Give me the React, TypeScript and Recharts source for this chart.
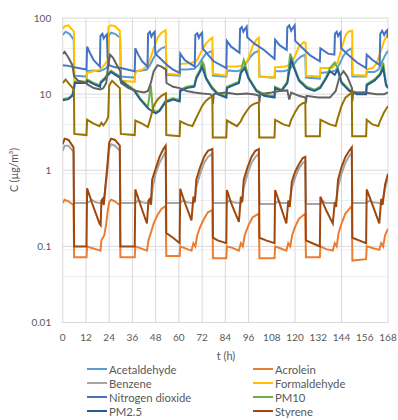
import { LineChart, Line, XAxis, YAxis, CartesianGrid } from "recharts";

type P = [number, number];

const X_TICKS = [0, 12, 24, 36, 48, 60, 72, 84, 96, 108, 120, 132, 144, 156, 168];
const Y_TICKS = [0.01, 0.1, 1, 10, 100];
const DECADES = [0.01, 0.1, 1, 10];
const MINOR_STEPS = [2, 3, 4, 5, 6, 7, 8, 9];

// [t (h), C (µg/m³)]
const acetaldehyde: P[] = [
  [0, 60], [1.5, 66], [3.5, 62], [5.7, 52], [6, 17.5], [12.3, 17], [12.6, 20], [16, 20.5], [19, 20], [21, 21], [22.5, 22], [23.4, 24],
  [23.7, 58], [25, 64], [27, 62], [29.7, 55], [30, 17], [37.2, 16.5], [37.5, 20], [41, 20.5], [43.5, 21], [45, 24], [47, 30], [49, 36],
  [51, 40], [53.3, 42], [53.6, 18], [60.4, 17.5], [60.7, 21], [64, 21], [68, 21.5], [70, 24], [72, 29], [74, 34], [77.3, 37], [77.6, 17.5],
  [84.5, 17], [84.8, 20.5], [90, 20], [93, 21], [95, 26], [97, 31], [99, 35], [101.3, 37], [101.6, 17], [109.4, 16.5], [109.7, 20],
  [114, 20], [117, 21], [119, 24], [121, 28], [123, 31], [125.3, 33], [125.6, 16.5], [132.8, 16], [133.1, 19], [138, 19.5], [141, 20.5],
  [143, 25], [145, 32], [147, 37], [149.3, 40], [149.6, 17], [156.7, 17], [157, 19.5], [161, 19.5], [163, 21], [165, 27], [167, 34], [168, 37],
];

const acrolein: P[] = [
  [0, 0.37], [1, 0.41], [3, 0.39], [5.6, 0.35], [5.9, 0.072], [12.3, 0.072], [12.6, 0.1], [15, 0.095], [17, 0.092], [19.5, 0.088],
  [20, 0.12], [21.5, 0.14], [22.5, 0.2], [23.3, 0.3], [24, 0.38], [25, 0.41], [27, 0.39], [29.5, 0.35], [29.8, 0.072], [37.2, 0.072],
  [37.5, 0.1], [40, 0.095], [43.5, 0.088], [44.3, 0.12], [45.5, 0.15], [47, 0.2], [49, 0.26], [51, 0.31], [53.2, 0.34], [53.5, 0.075],
  [60.4, 0.075], [60.7, 0.1], [63, 0.095], [66.5, 0.088], [67.5, 0.11], [68.5, 0.1], [69.5, 0.14], [71, 0.18], [73, 0.23], [75, 0.28],
  [77.3, 0.3], [77.6, 0.07], [84.5, 0.07], [84.8, 0.1], [88, 0.095], [91, 0.088], [92, 0.11], [93, 0.1], [94, 0.14], [96, 0.19],
  [98, 0.24], [101.3, 0.27], [101.6, 0.07], [109.4, 0.07], [109.7, 0.1], [113, 0.093], [115.5, 0.088], [116.5, 0.11], [117.5, 0.1],
  [118.5, 0.14], [120, 0.18], [122, 0.23], [125.3, 0.27], [125.6, 0.072], [132.8, 0.072], [133.1, 0.1], [136, 0.092], [139.5, 0.088],
  [140.5, 0.11], [141.5, 0.1], [142.5, 0.15], [144, 0.2], [146, 0.27], [149.3, 0.34], [149.6, 0.065], [156.7, 0.068], [157, 0.1],
  [160, 0.095], [163.5, 0.09], [164.5, 0.11], [165.5, 0.1], [166.5, 0.14], [168, 0.17],
];

const benzene: P[] = [
  [0, 1.8], [1, 2.1], [3, 2.1], [5.6, 1.75], [5.9, 0.37], [12.3, 0.37], [13.5, 0.38], [15, 0.41], [17, 0.38], [19.6, 0.37], [20.3, 0.4],
  [21.2, 0.38], [22, 0.55], [23, 0.95], [24, 1.9], [25, 2.2], [27, 2.1], [29.5, 1.8], [29.8, 0.37], [37.5, 0.37], [39, 0.4], [41, 0.38],
  [44, 0.37], [45, 0.4], [45.8, 0.38], [46.5, 0.6], [48, 0.9], [50, 1.25], [52, 1.55], [53.2, 1.75], [53.5, 0.37], [60.7, 0.37], [62, 0.4],
  [64, 0.38], [67.5, 0.37], [68.3, 0.4], [69, 0.6], [71, 0.9], [73, 1.25], [75, 1.5], [77.3, 1.65], [77.6, 0.37], [84.8, 0.37], [86, 0.4],
  [88, 0.38], [92, 0.37], [92.7, 0.4], [93.5, 0.6], [95.5, 0.9], [97.5, 1.25], [99.5, 1.5], [101.3, 1.65], [101.6, 0.36], [109.7, 0.36],
  [111, 0.39], [113, 0.37], [116.5, 0.37], [117.3, 0.4], [118.3, 0.58], [120, 0.8], [122, 1.05], [124, 1.25], [125.3, 1.3], [125.6, 0.36],
  [133.1, 0.36], [134.5, 0.39], [136, 0.37], [140.5, 0.37], [141.2, 0.4], [142.2, 0.6], [144, 0.9], [146, 1.25], [148, 1.55], [149.3, 1.7],
  [149.6, 0.37], [157, 0.37], [158.5, 0.4], [160, 0.38], [164.5, 0.37], [165.2, 0.4], [166.5, 0.58], [168, 0.8],
];

const formaldehyde: P[] = [
  [0, 72], [1, 78], [3, 80], [5, 70], [5.8, 66], [6, 15], [12.3, 14.5], [12.6, 19], [16, 20], [19, 21], [20, 22], [22, 25], [23.3, 28],
  [23.6, 76], [25, 80], [27, 78], [29.5, 68], [30, 15], [37.2, 14.5], [37.5, 19.5], [41, 21], [43.5, 23], [45, 28], [47, 40], [49, 55],
  [51, 64], [53.2, 69], [53.5, 18.5], [60.4, 18], [60.7, 25], [66, 25.5], [69, 27], [70, 30], [72, 38], [74, 46], [76, 52], [77.3, 55],
  [77.5, 18.5], [84.5, 17.5], [84.8, 23], [90, 23], [94, 24], [96, 30], [98, 42], [100, 52], [101.3, 55], [101.5, 17], [109.4, 16.5],
  [109.7, 22.5], [115, 23], [118, 25], [120, 32], [122, 42], [124.5, 48], [125.5, 47], [125.7, 17.5], [132.8, 17], [133.1, 22], [139, 22],
  [142, 26], [144, 40], [146, 58], [147.5, 66], [149.5, 68], [149.7, 17.8], [156.7, 17.5], [157, 21], [160, 22], [162, 25], [164, 35],
  [166, 50], [168, 62],
];

const nitrogenDioxide: P[] = [
  [0, 24], [3, 23.5], [6, 22.5], [12.3, 21], [12.6, 42], [14, 35], [16, 28], [19.2, 23], [19.5, 58], [20.5, 62], [21.2, 54], [22, 58],
  [22.8, 61], [23.2, 30], [24, 24], [27, 22.5], [30, 22], [37.2, 20], [37.5, 40], [39, 33], [41, 27], [43.8, 23], [44.1, 62], [45, 66],
  [45.8, 57], [46.7, 63], [47.5, 66], [47.8, 34], [50, 30], [54, 24], [57, 21], [60.4, 19], [60.7, 34], [63, 28], [68.2, 23], [68.5, 60],
  [69.5, 63], [70.3, 55], [71, 60], [72, 64], [72.3, 40], [75, 33], [78, 27], [84.5, 22], [84.8, 50], [87, 42], [91.3, 35], [91.6, 72],
  [92.5, 76], [93.3, 66], [94.2, 72], [95, 77], [95.3, 56], [99, 46], [104, 38], [109.4, 29], [109.7, 52], [112, 44], [115.7, 38], [116, 75],
  [117, 80], [118, 68], [119, 75], [119.8, 80], [120.1, 50], [124, 40], [128, 32], [132.8, 27], [133.1, 40], [137, 34], [140.3, 33],
  [140.6, 62], [141.5, 66], [142.2, 58], [143, 63], [143.5, 65], [143.8, 40], [148, 32], [152, 26], [156.7, 22], [157, 33], [160, 28],
  [163.7, 24], [164, 62], [165, 68], [166, 60], [166.8, 66], [167.5, 69], [168, 55],
];

const pm10: P[] = [
  [0, 8.6], [3, 8.9], [5, 9.8], [5.9, 12.4], [6.2, 14.5], [12.3, 14.5], [12.6, 15.6], [16, 14], [19.3, 13], [19.6, 14.6], [22, 16.7],
  [23.5, 18.8], [25, 20.3], [27, 18.7], [29.5, 17.2], [30, 15.6], [33, 13.5], [37, 11.4], [40, 8.8], [44, 6.8], [45.5, 13], [46.5, 6.4],
  [48, 5.8], [50, 6.2], [53, 8.1], [57, 8.8], [60.4, 8.3], [60.7, 11.4], [64, 12.5], [68, 13], [69, 17], [71, 21], [72, 27], [73, 24],
  [74, 16.6], [77, 12.5], [80, 10.4], [84.5, 9.4], [84.8, 12.5], [88, 13.5], [91, 14.6], [92, 20], [93.5, 28], [94.5, 23], [96, 16.6],
  [100, 11.4], [104, 9.9], [109.4, 9.4], [109.7, 12.5], [113, 11.4], [116, 14.6], [117.5, 34], [118.5, 29], [119.5, 23], [122, 15.6],
  [126, 12.5], [130, 11.4], [133, 12.5], [136, 16.6], [138, 22], [140.5, 26], [142, 22], [144, 14.6], [148, 11.4], [152, 10.4],
  [156.7, 10.4], [157, 13.5], [161, 15.6], [164, 18.7], [165.5, 26], [167, 13.5], [168, 12.5],
];

const pm25: P[] = [
  [0, 8.3], [3, 8.6], [5, 9.5], [5.9, 12], [6.2, 14], [12.3, 14], [12.6, 15], [16, 13.5], [19.3, 12.5], [19.6, 14], [22, 16], [23.5, 18],
  [25, 19.5], [27, 18], [29.5, 16.5], [30, 15], [33, 13], [37, 11], [40, 8.5], [44, 6.5], [46, 6], [48, 5.6], [50, 6], [53, 7.8], [57, 8.5],
  [60.4, 8], [60.7, 11], [64, 12], [68, 12.5], [69, 16], [71, 20], [72, 23], [74, 16], [77, 12], [80, 10], [84.5, 9], [84.8, 12], [88, 13],
  [91, 14], [92, 19], [94, 22], [96, 16], [100, 11], [104, 9.5], [109.4, 9], [109.7, 12], [113, 11], [116, 14], [118, 28], [119.5, 22],
  [122, 15], [126, 12], [130, 11], [133, 12], [136, 16], [138, 20], [140.5, 18], [142, 21], [144, 14], [148, 11], [152, 10], [156.7, 10],
  [157, 13], [161, 15], [164, 18], [165.5, 22], [167, 13], [168, 12],
];

const styrene: P[] = [
  [0, 2.2], [1, 2.6], [3, 2.5], [5.6, 2.0], [5.9, 0.1], [12.3, 0.1], [12.6, 0.58], [15, 0.38], [19, 0.2], [19.6, 0.19], [20, 0.4],
  [20.6, 0.42], [21.2, 0.35], [22, 0.6], [23, 1.1], [24, 2.3], [25, 2.6], [27, 2.5], [29.5, 2.1], [29.8, 0.1], [37.2, 0.1], [37.5, 0.56],
  [40, 0.36], [43.5, 0.2], [44.3, 0.4], [45, 0.42], [45.5, 0.35], [46.2, 0.75], [48, 1.05], [50, 1.5], [52, 1.9], [53.2, 2.1],
  [53.5, 0.15], [57, 0.13], [60.4, 0.11], [60.7, 0.57], [63, 0.38], [66.5, 0.22], [67.5, 0.45], [68.2, 0.38], [69, 0.75], [71, 1.1],
  [73, 1.5], [75, 1.8], [77.3, 1.9], [77.6, 0.13], [80, 0.12], [84.5, 0.11], [84.8, 0.55], [87, 0.37], [91, 0.21], [92, 0.45],
  [92.7, 0.38], [93.5, 0.75], [95.5, 1.1], [97.5, 1.5], [99.5, 1.8], [101.3, 1.9], [101.6, 0.13], [105, 0.12], [109.4, 0.11],
  [109.7, 0.55], [112, 0.37], [115.5, 0.2], [116.5, 0.4], [117.3, 0.33], [118.3, 0.7], [120, 0.95], [122, 1.2], [124, 1.45],
  [125.3, 1.5], [125.6, 0.12], [129, 0.11], [132.8, 0.1], [133.1, 0.45], [136, 0.3], [139.5, 0.2], [140.5, 0.38], [141.2, 0.33],
  [142.2, 0.75], [144, 1.1], [146, 1.5], [148, 1.8], [149.3, 2.0], [149.6, 0.13], [153, 0.12], [156.7, 0.11], [157, 0.56], [160, 0.35],
  [163.5, 0.2], [164.5, 0.42], [165.2, 0.35], [166.5, 0.65], [168, 0.9],
];

// two more series are drawn but their legend rows are cut off in the picture
const series9: P[] = [
  [0, 34], [1, 36], [3, 30], [5, 24], [5.9, 17], [8, 15], [12.3, 14], [12.6, 13.5], [16, 12], [19.5, 11.5], [21, 12], [22.5, 14],
  [23.5, 24], [24.5, 33], [26, 30], [28, 24], [29.8, 20], [30.1, 14], [34, 12], [38, 11], [42, 10.5], [44, 11], [45.5, 14], [47, 20],
  [49, 24], [51, 23], [53.3, 21], [53.6, 14], [57, 12.5], [60.5, 12], [64, 11], [68, 10.5], [72, 10.2], [76, 10], [77.4, 9.5], [77.6, 7.5],
  [78, 10], [84, 10.5], [90, 10], [95, 10.2], [100, 9.8], [101.4, 9.5], [101.6, 7.8], [102, 10], [108, 10.5], [112, 11], [116, 11.2],
  [117, 8.5], [118, 10.5], [122, 9.5], [125.4, 9], [125.6, 7.6], [126, 9.5], [132, 9], [138, 9], [141, 11], [143, 17], [145, 20],
  [147, 17], [149.4, 12], [149.6, 8], [150, 10.5], [156, 10.5], [162, 10], [166, 10], [168, 10.5],
];

const series10: P[] = [
  [0, 14], [1.5, 15.5], [4, 13], [5.8, 11.5], [6, 3.0], [12.3, 2.9], [12.6, 4.6], [16, 4.1], [19, 3.8], [20, 4.2], [21, 3.9], [22.5, 4.4],
  [23.5, 5], [24, 13], [25.5, 15], [29.5, 12], [30, 3.0], [37.2, 2.9], [37.5, 4.5], [41, 4.1], [44, 3.7], [45.5, 5], [47, 7], [49, 8.5],
  [51, 9.5], [53.3, 10.3], [53.5, 2.9], [60.4, 2.8], [60.7, 4.4], [64, 4.0], [67, 3.8], [68.5, 4.6], [70, 5.5], [72, 7], [74, 8.2], [76, 9],
  [77.3, 9.2], [77.5, 2.7], [84.5, 2.7], [84.8, 4.5], [90, 3.8], [92, 4.4], [93, 5], [95, 6], [97, 7], [99, 7.5], [101.3, 7.8],
  [101.5, 2.7], [109.4, 2.7], [109.7, 4.6], [114, 4.0], [117, 3.8], [118, 4.6], [120, 5.8], [122, 7], [124, 7.6], [125.3, 7.8],
  [125.5, 2.8], [132.8, 2.8], [133.1, 4.6], [138, 4.0], [141, 3.8], [142, 4.8], [144, 7], [146, 9], [149.3, 10.5], [149.5, 2.8],
  [156.7, 2.8], [157, 4.6], [160, 4.0], [163, 3.8], [164, 4.5], [166, 5.8], [168, 7],
];

const SERIES = [
  { name: "Acetaldehyde", color: "#5B9BD5", pts: acetaldehyde, legend: true },
  { name: "Acrolein", color: "#ED7D31", pts: acrolein, legend: true },
  { name: "Benzene", color: "#A5A5A5", pts: benzene, legend: true },
  { name: "Formaldehyde", color: "#FFC000", pts: formaldehyde, legend: true },
  { name: "Nitrogen dioxide", color: "#4472C4", pts: nitrogenDioxide, legend: true },
  { name: "PM10", color: "#70AD47", pts: pm10, legend: true },
  { name: "PM2.5", color: "#255E91", pts: pm25, legend: true },
  { name: "Styrene", color: "#9E480E", pts: styrene, legend: true },
  { name: "series9", color: "#636363", pts: series9, legend: false },
  { name: "series10", color: "#997300", pts: series10, legend: false },
];

const FONT = "Lato, 'Open Sans', sans-serif";
const TEXT = "#595959";

export default function App() {
  const minor = DECADES.flatMap((d) => MINOR_STEPS.map((k) => +(k * d).toPrecision(3)));
  const shown = SERIES.filter((s) => s.legend);

  return (
    <div style={{ position: "absolute", left: 0, top: 0, width: 398, height: 420, background: "#fff", fontFamily: FONT }}>
      <LineChart width={398} height={345} margin={{ top: 18, right: 10, left: 0, bottom: 0 }}>
        <CartesianGrid horizontalValues={minor} vertical={false} stroke="#eeeeee" />
        <CartesianGrid stroke="#d9d9d9" />
        <XAxis
          dataKey="t"
          type="number"
          domain={[0, 168]}
          ticks={X_TICKS}
          allowDataOverflow
          height={22.5}
          tickSize={0}
          tickMargin={11}
          stroke="#d9d9d9"
          tick={{ fill: TEXT, fontSize: 10, fontFamily: FONT }}
        />
        <YAxis
          type="number"
          scale="log"
          domain={[0.01, 100]}
          ticks={Y_TICKS}
          allowDataOverflow
          width={62.7}
          tickSize={0}
          tickMargin={11.5}
          axisLine={false}
          tickFormatter={(v) => String(v)}
          tick={{ fill: TEXT, fontSize: 10, fontFamily: FONT }}
        />
        {SERIES.map((s) => (
          <Line
            key={s.name}
            data={s.pts.map(([t, v]) => ({ t, v }))}
            dataKey="v"
            name={s.name}
            type="linear"
            stroke={s.color}
            strokeWidth={2}
            dot={false}
            isAnimationActive={false}
            legendType={s.legend ? "line" : "none"}
          />
        ))}
      </LineChart>

      {/* axis titles */}
      <div
        style={{
          position: "absolute", left: 14, top: 170, transform: "translate(-50%, -50%) rotate(-90deg)",
          whiteSpace: "nowrap", fontSize: 10.5, color: TEXT,
        }}
      >
        C (µg/m³)
      </div>
      <div style={{ position: "absolute", left: 226, top: 355, transform: "translate(-50%, -50%)", fontSize: 11, color: TEXT }}>
        t (h)
      </div>

      {/* legend, two columns */}
      <div style={{ position: "absolute", left: 87, top: 362, display: "grid", gridTemplateColumns: "166px 120px" }}>
        {shown.map((s) => (
          <div key={s.name} style={{ display: "flex", alignItems: "center", height: 14, fontSize: 11.3, color: TEXT }}>
            <span style={{ width: 20, height: 2, background: s.color, display: "inline-block", marginRight: 2 }} />
            {s.name}
          </div>
        ))}
      </div>
    </div>
  );
}
